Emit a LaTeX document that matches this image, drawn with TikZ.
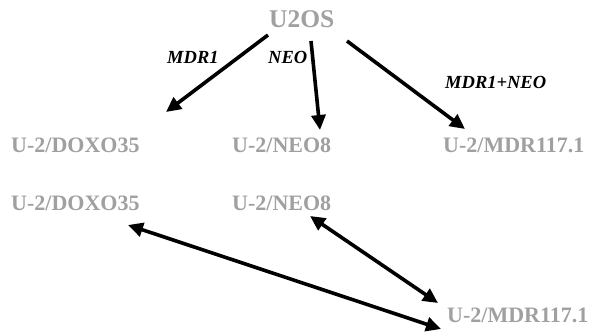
\documentclass[tikz,border=0pt]{standalone}
\usepackage{fontspec}
\setmainfont{Liberation Serif}
\usetikzlibrary{arrows.meta}
\definecolor{linegray}{RGB}{160,160,160}
\begin{document}
\begin{tikzpicture}[x=1pt,y=-1pt,
  cellline/.style={text=linegray, inner sep=0pt, anchor=base west,
    font=\fontsize{22}{26}\selectfont\bfseries},
  parent/.style={cellline, font=\fontsize{25.5}{30}\selectfont\bfseries},
  treat/.style={inner sep=0pt, anchor=base west,
    font=\fontsize{18.5}{22}\selectfont\bfseries\itshape},
  arr/.style={line width=3.6pt, -{Triangle[length=15pt,width=14pt]}},
  dbl/.style={line width=3.6pt, {Triangle[length=15pt,width=14pt]}-{Triangle[length=15pt,width=14pt]}}]
\useasboundingbox (0,0) rectangle (589,333);

% cell lines
\node[parent]   (u2os)  at (269,27)  {U2OS};
\node[cellline] (doxoA) at (11,152)  {U-2/DOXO35};
\node[cellline] (neoA)  at (232,152) {U-2/NEO8};
\node[cellline] (mdrA)  at (443,152) {U-2/MDR117.1};
\node[cellline] (doxoB) at (11,210)  {U-2/DOXO35};
\node[cellline] (neoB)  at (232,210) {U-2/NEO8};
\node[cellline] (mdrB)  at (447,322) {U-2/MDR117.1};

% selection agents
\node[treat] (tm) at (167,63) {MDR1};
\node[treat] (tn) at (268,63) {NEO};
\node[treat] (tb) at (445,88) {MDR1+NEO};

% arrow ends
\coordinate (s1) at (268,35);  \coordinate (e1) at (166,112);
\coordinate (s2) at (311,41);  \coordinate (e2) at (320,130);
\coordinate (s3) at (347,41);  \coordinate (e3) at (465,129);
\coordinate (p1) at (128,225); \coordinate (q1) at (441,329);
\coordinate (p2) at (310,216); \coordinate (q2) at (438,303);

\draw[arr] (s1) -- (e1);
\draw[arr] (s2) -- (e2);
\draw[arr] (s3) -- (e3);
\draw[dbl] (p1) -- (q1);
\draw[dbl] (p2) -- (q2);
\end{tikzpicture}
\end{document}
